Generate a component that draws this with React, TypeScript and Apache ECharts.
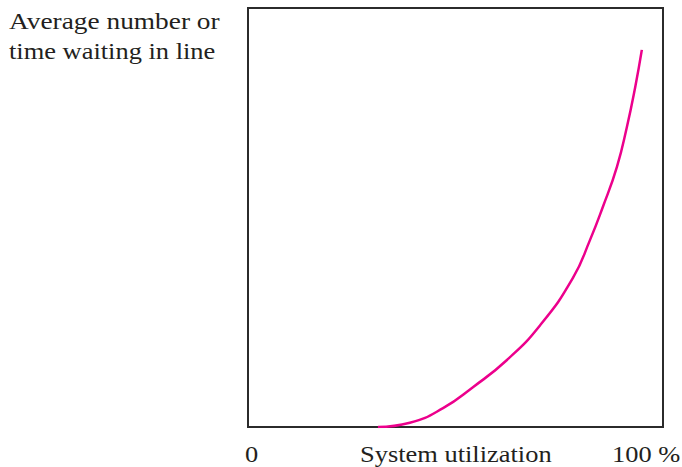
import React, { useEffect, useRef } from "react";
import * as echarts from "echarts";

const utilization = [31.3, 39.0, 47.0, 54.2, 62.4, 70.4, 78.3, 82.4, 85.5, 88.9, 91.3, 93.3, 94.9];
const waiting = [0, 1.0, 4.5, 9.5, 16.0, 24.3, 35.6, 44.6, 52.5, 62.1, 71.6, 81.1, 90.0];
const yTitleLines = ["Average number or", "time waiting in line"];
const xLabels = ["0", "System utilization", "100 %"];

export default function App() {
  const ref = useRef<HTMLDivElement>(null);
  useEffect(() => {
    if (!ref.current) return;
    const chart = echarts.init(ref.current, null, { renderer: "svg" });
    const font = "'Liberation Serif', 'Times New Roman', serif";
    const txt = (t: string, x: number, y: number, sx = 1.15) => ({
      type: "text",
      x,
      y,
      scaleX: sx,
      style: { text: t, font: `23px ${font}`, fill: "#231f20", textVerticalAlign: "top", textAlign: "left" },
    });
    chart.setOption({
      animation: false,
      backgroundColor: "#ffffff",
      grid: {
        left: 248,
        right: 19,
        top: 8,
        bottom: 40,
        show: true,
        borderColor: "#2b2b2b",
        borderWidth: 2,
        backgroundColor: "transparent",
      },
      xAxis: { type: "value", min: 0, max: 100, show: false },
      yAxis: { type: "value", min: 0, max: 100, show: false },
      series: [
        {
          type: "line",
          data: utilization.map((u, i) => [u, waiting[i]]),
          smooth: 0.5,
          showSymbol: false,
          lineStyle: { color: "#ec008c", width: 2.5 },
        },
      ],
      graphic: [
        txt(yTitleLines[0], 9, 9, 1.19),
        txt(yTitleLines[1], 9, 40),
        txt(xLabels[0], 245, 443),
        txt(xLabels[1], 360, 443),
        txt(xLabels[2], 612, 443),
      ],
    });
    return () => chart.dispose();
  }, []);
  return <div ref={ref} style={{ width: 682, height: 467, position: "absolute", left: 0, top: 0 }} />;
}
